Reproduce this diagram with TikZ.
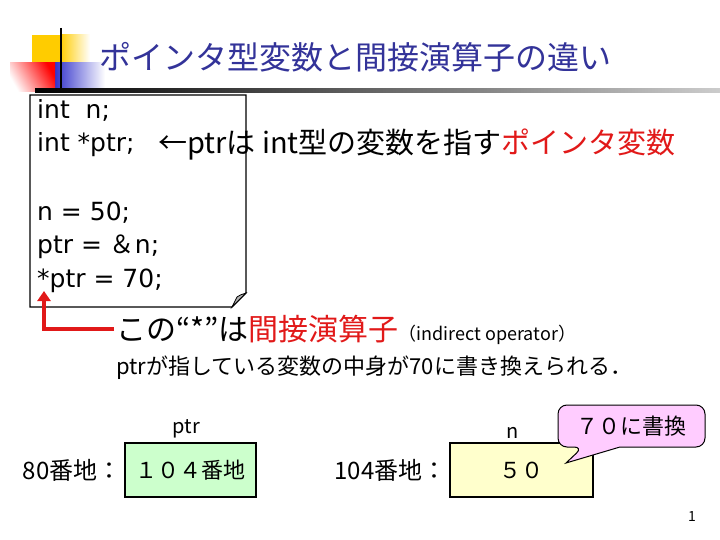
\documentclass[tikz,border=0pt]{standalone}
\usepackage{fontspec}
\setmainfont{Noto Sans CJK JP}
\newfontfamily\codefont{DejaVu Sans}
\usetikzlibrary{positioning, arrows.meta}
\definecolor{titleblue}{RGB}{51,51,153}
\definecolor{ptrred}{RGB}{225,25,25}
\definecolor{ptrgreen}{RGB}{204,255,204}
\definecolor{nyellow}{RGB}{255,255,204}
\definecolor{bubblepink}{RGB}{255,204,255}
\definecolor{barblue}{RGB}{51,51,204}
\definecolor{baryellow}{RGB}{255,204,0}
\newcommand{\fsz}[1]{\fontsize{#1}{#1}\selectfont}

\begin{document}
\begin{tikzpicture}[
        x=1pt, y=-1pt,
        codeline/.style={anchor=base west, inner sep=0pt, font=\codefont\fsz{25}},
        jpline/.style={anchor=base west, inner sep=0pt},
        memaddr/.style={inner sep=0pt, font=\fsz{24}},
        membox/.style={draw, line width=2.5pt, minimum height=54pt, inner sep=0pt, font=\fsz{22}},
        varname/.style={font=\fsz{20}, inner sep=0pt},
        ptrarrow/.style={draw=ptrred, line width=4pt, -{Triangle[length=10pt, width=13pt]}},
        bubble/.style={fill=bubblepink, draw=black, line width=1pt, rounded corners=9pt},
    ]
    \useasboundingbox (0,0) rectangle (720,540);

    % title bar
    \fill[baryellow] (32,35) rectangle (60,68);
    \shade[left color=baryellow, right color=white] (60,35) rectangle (90,68);
    \shade[left color=barblue, right color=white] (55,63) rectangle (105,91);
    \shade[left color=white, right color=red, shading angle=120] (10,63) rectangle (55,92);
    \draw[line width=2.5pt] (61,28) -- (61,91);
    \shade[left color=black, right color=black!20] (35,89) rectangle (720,93);
    \node[font=\fsz{32}, text=titleblue] (title) at (355,57) {ポインタ型変数と間接演算子の違い};

    % source code
    \draw[line width=1.2pt, fill=white] (30,95) -- (246,95) -- (246,293) -- (232,307) -- (30,307) -- cycle;
    \filldraw[fill=black!30, line width=0.8pt] (232,307) .. controls (235,301) .. (237,297) .. controls (240,295) .. (246,293) -- cycle;
    \node[codeline] (decln) at (37,119) {int\ \ n;};
    \node[codeline] (declptr) at (37,152) {int *ptr;};
    \node[jpline, font=\fsz{29}] (ptrnote) at (158,154) {←ptrは int型の変数を指す\textcolor{ptrred}{ポインタ変数}};
    \node[codeline] (assignn) at (37,221) {n = 50;};
    \node[codeline] (assignptr) at (37,254) {ptr = {\rmfamily ＆}n;};
    \node[codeline] (deref) at (37,287) {*ptr = 70;};

    \node[jpline, inner sep=2pt, font=\fsz{30}] (opnote) at (114,340)
        {この“*”は\textcolor{ptrred}{間接演算子}{\fsz{18}（indirect operator）}};
    \coordinate (star) at (44,291);
    \draw[ptrarrow] (opnote.west) -| (star);
    \node[jpline, font=\fsz{22}] (effect) at (116,374) {ptrが指している変数の中身が70に書き換えられる．};

    % memory
    \node[membox, fill=ptrgreen, minimum width=131pt] (ptrbox) at (190.5,470) {１０４番地};
    \node[membox, fill=nyellow, minimum width=143pt] (nbox) at (521.5,470) {５０};
    \node[memaddr, left=2pt of ptrbox] (ptraddr) {80番地：};
    \node[memaddr, left=2pt of nbox] (naddr) {104番地：};
    \node[varname, above=3pt of ptrbox, xshift=-4pt] (ptrname) {ptr};
    \node[varname, above=3pt of nbox, xshift=-9pt] (nname) {n};

    \filldraw[bubble] (583,447) [sharp corners] -- (566,463) -- (620,447) [rounded corners=9pt]
        -- (705,447) -- (705,405) -- (558,405) -- (558,447) -- cycle;
    \node[font=\fsz{22}, inner sep=0pt] (rewrite) at (631,426) {７０に書換};

    \node[font=\fsz{14}] (pagenum) at (692,517) {1};
\end{tikzpicture}
\end{document}
